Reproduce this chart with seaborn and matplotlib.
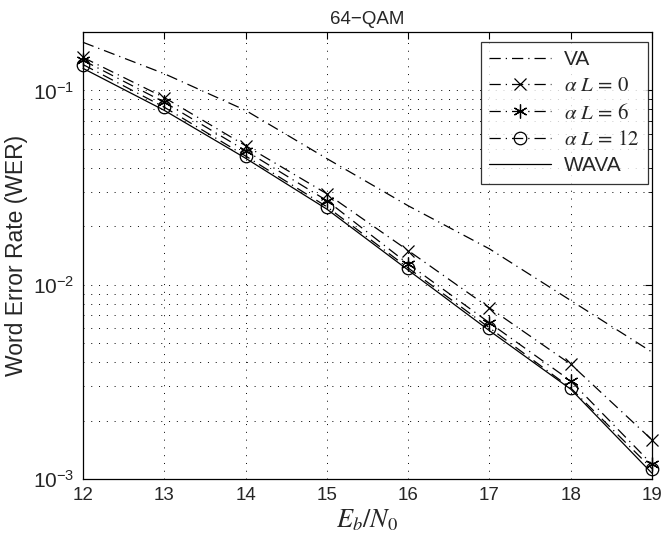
import matplotlib
matplotlib.use("Agg")
import matplotlib.pyplot as plt
import seaborn as sns
import numpy as np
import pandas as pd
from matplotlib.ticker import LogLocator, FixedLocator

ebn0 = [12, 13, 14, 15, 16, 17, 18, 19]
wer_va = [0.177, 0.122, 0.079, 0.0446, 0.0255, 0.0153, 0.0083, 0.0045]
wer_al0 = [0.148, 0.092, 0.052, 0.0294, 0.0150, 0.0076, 0.0039, 0.00159]
wer_al6 = [0.143, 0.087, 0.049, 0.0271, 0.0128, 0.00637, 0.0032, 0.00119]
wer_al12 = [0.136, 0.082, 0.046, 0.0252, 0.0122, 0.0060, 0.00294, 0.00113]
wer_wava = [0.130, 0.079, 0.0448, 0.0245, 0.0119, 0.0058, 0.0029, 0.00107]
labels = ["VA", r"$\alpha\ L\,=\,0$", r"$\alpha\ L\,=\,6$", r"$\alpha\ L\,=\,12$", "WAVA"]
xticks = [12, 13, 14, 15, 16, 17, 18, 19]

sns.set_style("white")
plt.rcParams["font.family"] = ["Liberation Sans", "DejaVu Sans"]
plt.rcParams["mathtext.fontset"] = "stix"

fig = plt.figure(figsize=(6.62, 5.38), dpi=100)
ax = fig.add_axes([0.1254, 0.1097, 0.8595, 0.8308])

asterisk = (6, 2, 0)
dd = (0, (9, 4, 1, 4))
styles = [
    dict(linestyle=dd, marker=None),
    dict(linestyle=dd, marker="x", markersize=8, mew=0.9),
    dict(linestyle=dd, marker=asterisk, markersize=10, mew=0.9),
    dict(linestyle=dd, marker="o", markersize=9, mew=0.9, markerfacecolor="none"),
    dict(linestyle="-", marker=None),
]
series = [wer_va, wer_al0, wer_al6, wer_al12, wer_wava]
for vals, lab, st in zip(series, labels, styles):
    df = pd.DataFrame({"x": ebn0, "y": vals})
    sns.lineplot(data=df, x="x", y="y", ax=ax, color="black", linewidth=0.9,
                 label=lab, markeredgecolor="black", clip_on=False, **st)

ax.set_yscale("log")
ax.set_xlim(12, 19)
ax.set_ylim(1e-3, 0.2)
ax.xaxis.set_major_locator(FixedLocator(xticks))
ax.yaxis.set_major_locator(LogLocator(base=10, numticks=10))
ax.yaxis.set_minor_locator(LogLocator(base=10, subs=np.arange(2, 10), numticks=20))
gstyle = dict(linestyle=(0, (1, 7)), color="black", linewidth=0.7)
ax.grid(True, which="major", axis="x", **gstyle)
ax.grid(True, which="both", axis="y", **gstyle)
ax.tick_params(axis="both", which="both", direction="in", top=True, right=True,
               color="black")
ax.tick_params(axis="x", which="major", labelsize=13.5)
ax.tick_params(axis="y", which="major", labelsize=15)
ax.tick_params(axis="both", which="major", length=5, pad=6)
ax.tick_params(axis="y", which="minor", length=3)
ax.tick_params(axis="y", which="minor", labelleft=False)
for sp in ax.spines.values():
    sp.set_color("black")
    sp.set_linewidth(0.9)

ax.set_title("64−QAM", fontsize=13.5, pad=6)
ax.set_ylabel("Word Error Rate (WER)", fontsize=16.5, labelpad=4)
ax.set_xlabel(r"$E_b/N_0$", fontsize=19, labelpad=2)

leg = ax.legend(loc="upper right", bbox_to_anchor=(0.993, 0.978), borderaxespad=0,
                fontsize=15, frameon=True, fancybox=False, edgecolor="black",
                handlelength=3.0, borderpad=0.4, labelspacing=0.35, handletextpad=0.6)
leg.get_frame().set_linewidth(0.9)

fig.savefig("out.png", dpi=100)
